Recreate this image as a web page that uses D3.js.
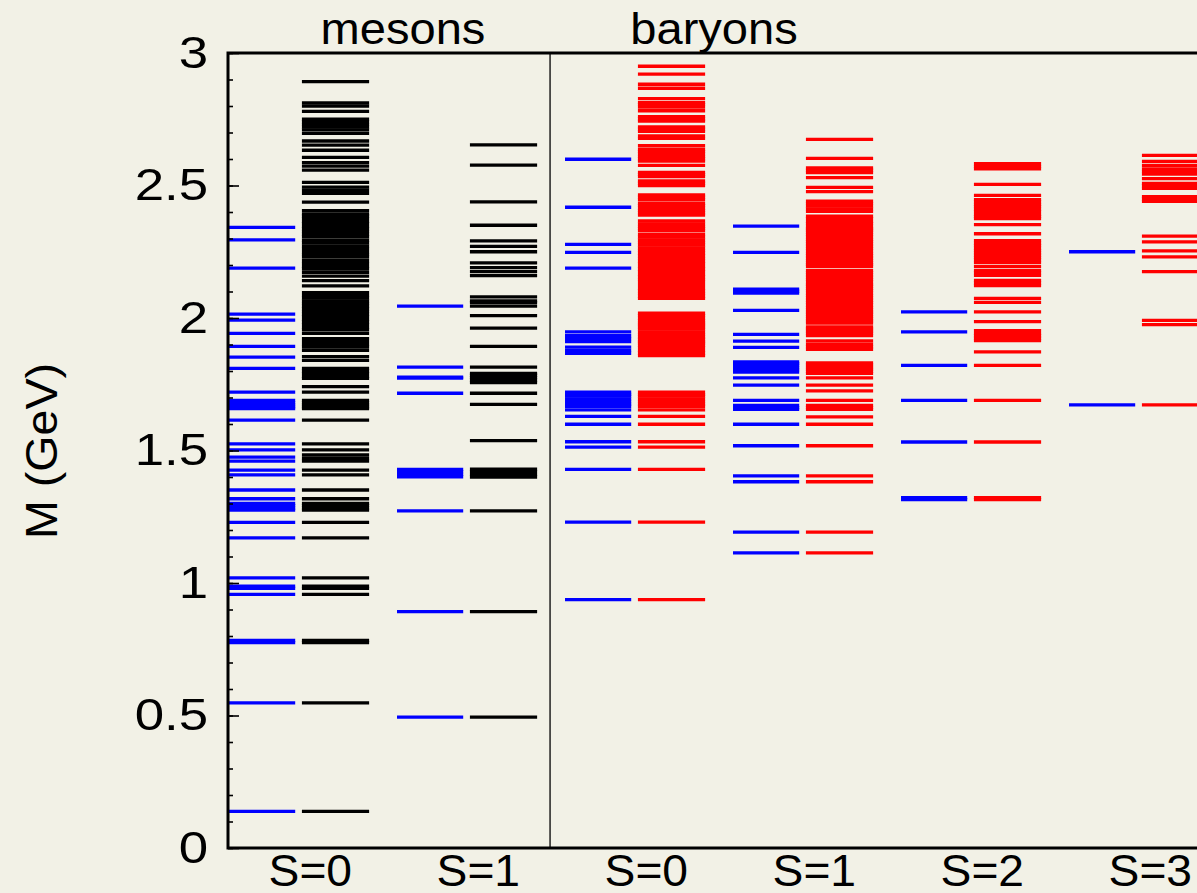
<!DOCTYPE html>
<html>
<head>
<meta charset="utf-8">
<script src="https://cdn.jsdelivr.net/npm/d3@7/dist/d3.min.js"></script>
<style>
  html, body { margin: 0; padding: 0; background: #f2f1e6; }
  svg { display: block; }
  text { font-family: "Liberation Sans", Arial, Helvetica, sans-serif; fill: #000; }
</style>
</head>
<body>
<svg id="chart" width="1197" height="893"></svg>
<script>
// Hadron mass spectrum: measured states (blue) next to model states (black / red), in GeV.

const groupLabels = ["S=0", "S=1", "S=0", "S=1", "S=2", "S=3"];
const sectorLabels = ["mesons", "baryons"];
const yTickValues = [0, 0.5, 1, 1.5, 2, 2.5, 3];

// mesons, strangeness 0
const mesonS0_pdg = [0.138, 0.548, 0.775, 0.783, 0.957, 0.980, 0.988, 1.019, 1.170, 1.229,
  1.275, 1.283, 1.292, 1.300, 1.318, 1.351, 1.408, 1.426, 1.460, 1.475, 1.502, 1.525,
  1.615, 1.658, 1.665, 1.672, 1.680, 1.689, 1.720, 1.810, 1.852, 1.893, 1.942, 1.992,
  2.015, 2.188, 2.295, 2.342];
const mesonS0_model = [0.138, 0.548, 0.775, 0.783, 0.957, 0.980, 0.988, 1.019, 1.170, 1.229,
  1.275, 1.283, 1.292, 1.300, 1.318, 1.351, 1.408, 1.426, 1.460, 1.470, 1.483, 1.502, 1.525,
  1.615, 1.658, 1.665, 1.672, 1.680, 1.689, 1.720, 1.741, 1.772, 1.780, 1.790, 1.800,
  1.810, 1.840, 1.854, 1.878, 1.890, 1.900, 1.912, 1.922, 1.942, 1.955, 1.965, 1.975,
  1.985, 1.995, 2.005, 2.015, 2.025, 2.035, 2.045, 2.055, 2.065, 2.075, 2.085, 2.096,
  2.121, 2.141, 2.158, 2.172, 2.185, 2.195, 2.205, 2.216, 2.230, 2.240, 2.250, 2.262,
  2.272, 2.284, 2.294, 2.306, 2.316, 2.326, 2.336, 2.346, 2.356, 2.365, 2.375, 2.385,
  2.393, 2.405, 2.437, 2.470, 2.482, 2.494, 2.512, 2.558, 2.573, 2.586, 2.606, 2.633,
  2.652, 2.668, 2.697, 2.710, 2.720, 2.730, 2.740, 2.750, 2.780, 2.800, 2.812, 2.892];

// mesons, strangeness 1
const mesonS1_pdg = [0.494, 0.892, 1.272, 1.401, 1.410, 1.420, 1.429, 1.716, 1.773, 1.777,
  1.815, 2.045];
const mesonS1_model = [0.494, 0.892, 1.272, 1.400, 1.410, 1.420, 1.430, 1.537, 1.674, 1.716,
  1.756, 1.766, 1.776, 1.784, 1.791, 1.815, 1.893, 1.962, 2.009, 2.045, 2.058, 2.065,
  2.080, 2.160, 2.175, 2.190, 2.208, 2.250, 2.270, 2.291, 2.350, 2.438, 2.577, 2.653];

// baryons, strangeness 0
const baryonS0_pdg = [0.937, 1.230, 1.429, 1.513, 1.533, 1.599, 1.629, 1.653, 1.667, 1.675,
  1.685, 1.695, 1.705, 1.712, 1.720, 1.867, 1.878, 1.890, 1.911, 1.922, 1.933, 1.948,
  2.188, 2.248, 2.278, 2.418, 2.599];
const baryonS0_model = [0.937, 1.230, 1.429, 1.513, 1.533, 1.599, 1.629, 1.653, 1.667, 1.675,
  1.685, 1.695, 1.705, 1.712, 1.720, 1.858, 1.868, 1.878, 1.888, 1.898, 1.906, 1.912,
  1.920, 1.928, 1.938, 1.948, 1.958, 1.966, 1.974, 1.981, 1.989, 1.999, 2.009, 2.018,
  2.074, 2.082, 2.092, 2.102, 2.112, 2.122, 2.135, 2.145, 2.155, 2.165, 2.175, 2.185,
  2.195, 2.205, 2.215, 2.225, 2.235, 2.245, 2.255, 2.265, 2.275, 2.285, 2.295, 2.305,
  2.315, 2.329, 2.338, 2.346, 2.355, 2.366, 2.388, 2.397, 2.406, 2.415, 2.424, 2.433,
  2.447, 2.456, 2.465, 2.500, 2.509, 2.517, 2.534, 2.542, 2.549, 2.576, 2.592, 2.601,
  2.610, 2.619, 2.628, 2.636, 2.650, 2.678, 2.687, 2.704, 2.713, 2.721, 2.743, 2.751,
  2.760, 2.782, 2.796, 2.805, 2.813, 2.828, 2.867, 2.882, 2.920, 2.950];

// baryons, strangeness 1
const baryonS1_pdg = [1.114, 1.192, 1.382, 1.404, 1.518, 1.599, 1.655, 1.662, 1.670, 1.689,
  1.747, 1.774, 1.796, 1.804, 1.812, 1.820, 1.828, 1.834, 1.889, 1.913, 1.938, 2.029,
  2.094, 2.101, 2.109, 2.248, 2.347];
const baryonS1_model = [1.114, 1.192, 1.382, 1.404, 1.518, 1.599, 1.627, 1.655, 1.662, 1.670,
  1.689, 1.725, 1.747, 1.774, 1.791, 1.799, 1.807, 1.815, 1.823, 1.831, 1.882, 1.891,
  1.901, 1.914, 1.934, 1.943, 1.951, 1.959, 1.966, 1.981, 1.989, 1.997, 2.006, 2.015,
  2.022, 2.031, 2.040, 2.049, 2.058, 2.067, 2.076, 2.085, 2.094, 2.103, 2.112, 2.120,
  2.127, 2.136, 2.145, 2.154, 2.163, 2.172, 2.180, 2.195, 2.202, 2.208, 2.217, 2.226,
  2.235, 2.244, 2.253, 2.262, 2.271, 2.280, 2.289, 2.297, 2.306, 2.315, 2.324, 2.332,
  2.338, 2.347, 2.357, 2.365, 2.375, 2.384, 2.402, 2.412, 2.422, 2.432, 2.441, 2.477,
  2.493, 2.530, 2.549, 2.558, 2.566, 2.602, 2.674];

// baryons, strangeness 2
const baryonS2_pdg = [1.315, 1.322, 1.532, 1.689, 1.821, 1.948, 2.023];
const baryonS2_model = [1.315, 1.322, 1.532, 1.689, 1.821, 1.872, 1.915, 1.924, 1.933,
  1.942, 1.952, 1.986, 2.023, 2.059, 2.074, 2.122, 2.132, 2.142, 2.161, 2.170, 2.180,
  2.195, 2.210, 2.219, 2.228, 2.237, 2.246, 2.255, 2.264, 2.273, 2.282, 2.292, 2.318,
  2.352, 2.375, 2.383, 2.391, 2.402, 2.411, 2.420, 2.429, 2.438, 2.447, 2.463, 2.504,
  2.563, 2.572, 2.582];

// baryons, strangeness 3
const baryonS3_pdg = [1.672, 2.250];
const baryonS3_model = [1.672, 1.975, 1.991, 2.175, 2.231, 2.253, 2.287, 2.309, 2.440,
  2.449, 2.458, 2.489, 2.499, 2.508, 2.526, 2.543, 2.553, 2.563, 2.576, 2.591, 2.614];

const columns = [
  { group: 0, side: 0, color: "#0000ff", values: mesonS0_pdg },
  { group: 0, side: 1, color: "#000000", values: mesonS0_model },
  { group: 1, side: 0, color: "#0000ff", values: mesonS1_pdg },
  { group: 1, side: 1, color: "#000000", values: mesonS1_model },
  { group: 2, side: 0, color: "#0000ff", values: baryonS0_pdg },
  { group: 2, side: 1, color: "#ff0000", values: baryonS0_model },
  { group: 3, side: 0, color: "#0000ff", values: baryonS1_pdg },
  { group: 3, side: 1, color: "#ff0000", values: baryonS1_model },
  { group: 4, side: 0, color: "#0000ff", values: baryonS2_pdg },
  { group: 4, side: 1, color: "#ff0000", values: baryonS2_model },
  { group: 5, side: 0, color: "#0000ff", values: baryonS3_pdg },
  { group: 5, side: 1, color: "#ff0000", values: baryonS3_model }
];

const svg = d3.select("#chart");
const plotLeft = 228, plotTop = 53, plotBottom = 848, groupWidth = 168;
const fontSize = 44;

const x = d3.scaleLinear().domain([0, 6]).range([plotLeft, plotLeft + 6 * groupWidth]);
const y = d3.scaleLinear().domain([0, 3]).range([plotBottom, plotTop]);

svg.append("rect").attr("width", 1197).attr("height", 893).attr("fill", "#f2f1e6");

// column extents inside each group (fractions of a group)
const sideSpan = [[0.006, 0.40], [0.44, 0.84]];

const levels = svg.append("g").attr("class", "levels");
columns.forEach(col => {
  const [a, b] = sideSpan[col.side];
  levels.append("g")
    .selectAll("line")
    .data(col.values)
    .join("line")
    .attr("x1", x(col.group + a))
    .attr("x2", x(col.group + b))
    .attr("y1", d => y(d))
    .attr("y2", d => y(d))
    .attr("stroke", col.color)
    .attr("stroke-width", 3.3);
});

// divider between mesons and baryons
svg.append("line")
  .attr("x1", x(1.917)).attr("x2", x(1.917))
  .attr("y1", plotTop).attr("y2", plotBottom)
  .attr("stroke", "#000").attr("stroke-width", 1.3);

// minor ticks every 0.1 GeV, pointing inward
const minor = svg.append("g")
  .attr("transform", `translate(${plotLeft},0)`)
  .call(d3.axisLeft(y).tickValues(d3.range(0, 31).map(i => i / 10)).tickSize(-5).tickFormat(""));
minor.select(".domain").remove();
minor.selectAll(".tick line").attr("stroke", "#000").attr("stroke-width", 1.6);

// major ticks with labels (labels drawn slightly wide)
const tickStretch = 1.2;
const major = svg.append("g")
  .attr("transform", `translate(${plotLeft},0)`)
  .call(d3.axisLeft(y).tickValues(yTickValues).tickSize(-11).tickPadding(20).tickFormat(d3.format("~g")));
major.select(".domain").remove();
major.selectAll(".tick line").attr("stroke", "#000").attr("stroke-width", 1.6);
major.selectAll(".tick text")
  .attr("font-size", fontSize)
  .attr("font-family", "'Liberation Sans', Arial, Helvetica, sans-serif")
  .attr("fill", "#000")
  .attr("x", -20 / tickStretch)
  .attr("transform", `scale(${tickStretch},1)`);

// frame (right edge runs past the visible area)
svg.append("rect")
  .attr("x", plotLeft).attr("y", plotTop)
  .attr("width", 6 * groupWidth + 20).attr("height", plotBottom - plotTop)
  .attr("fill", "none").attr("stroke", "#000").attr("stroke-width", 3);

const textStretch = 1.05;

// strangeness labels below the frame
svg.append("g").selectAll("text")
  .data(groupLabels)
  .join("text")
  .attr("transform", (d, i) => `translate(${x(i + 0.49)},886) scale(${textStretch},1)`)
  .attr("text-anchor", "middle")
  .attr("font-size", fontSize)
  .text(d => d);

// sector labels above the frame
const sectorX = [403, 714];
svg.append("g").selectAll("text")
  .data(sectorLabels)
  .join("text")
  .attr("transform", (d, i) => `translate(${sectorX[i]},44) scale(${textStretch + 0.02},1)`)
  .attr("text-anchor", "middle")
  .attr("font-size", fontSize)
  .text(d => d);

// axis title
svg.append("text")
  .attr("transform", `translate(57,451) rotate(-90) scale(${textStretch + 0.01},1)`)
  .attr("text-anchor", "middle")
  .attr("font-size", fontSize)
  .text("M (GeV)");
</script>
</body>
</html>
